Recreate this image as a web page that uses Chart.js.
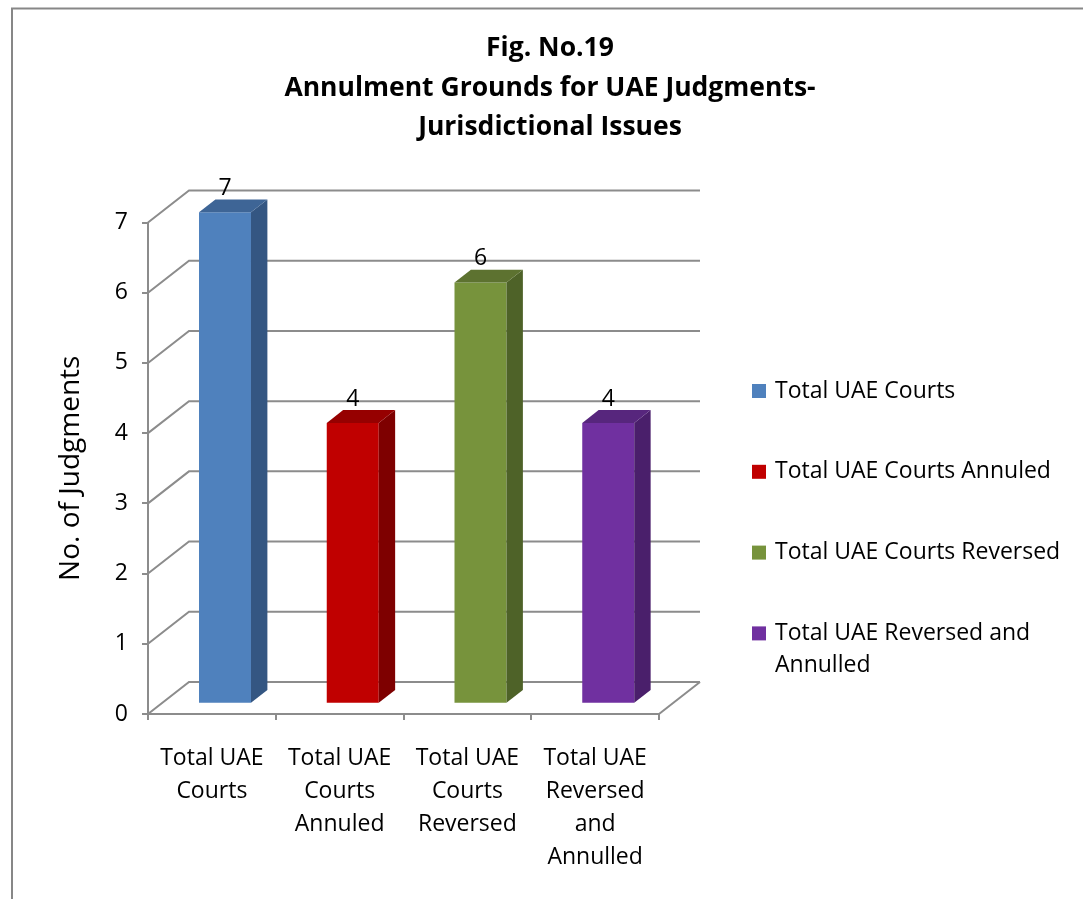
<!DOCTYPE html>
<html>
<head>
<meta charset="utf-8">
<script src="https://cdn.jsdelivr.net/npm/chart.js@4/dist/chart.umd.min.js"></script>
<style>
  html, body { margin: 0; padding: 0; background: #fff; overflow: hidden; }
</style>
</head>
<body>
<canvas id="chart" width="1083" height="899"></canvas>
<script>
// data
const categories = [["Total UAE", "Courts"], ["Total UAE", "Courts", "Annuled"], ["Total UAE", "Courts", "Reversed"], ["Total UAE", "Reversed", "and", "Annulled"]];
const legendLabels = [["Total UAE Courts"], ["Total UAE Courts Annuled"], ["Total UAE Courts Reversed"], ["Total UAE Reversed and", "Annulled"]];
const judgments = [7, 4, 6, 4];
const yTicks = [0, 1, 2, 3, 4, 5, 6, 7];
const titleLines = ["Fig. No.19", "Annulment Grounds for UAE Judgments-", "Jurisdictional Issues"];
const yTitle = "No. of Judgments";

// styles
const frontColors = ["#4F81BD", "#C00000", "#77933C", "#7030A0"];
const sideColors = ["#345682", "#7E0000", "#4E6228", "#4A1F6B"];
const topColors = ["#3E6596", "#960000", "#5D7230", "#57267D"];
const gridColor = "#8C8C8C";
const FONT = "'Open Sans', sans-serif";
const DX = 41, DY = -32;          // depth of the 3d box
const BAR_FRONT = 0.32, BAR_DEPTH = 0.4;

const plot3d = {
  id: "plot3d",
  beforeDatasetsDraw(chart) {
    const { ctx, chartArea: a } = chart;
    const y = chart.scales.y;
    ctx.save();
    ctx.strokeStyle = gridColor;
    ctx.lineWidth = 2;
    yTicks.forEach((v) => {
      const py = y.getPixelForValue(v);
      ctx.beginPath();
      ctx.moveTo(a.left, py);
      ctx.lineTo(a.left + DX, py + DY);
      ctx.lineTo(a.right + DX, py + DY);
      ctx.stroke();
    });
    ctx.beginPath();
    ctx.moveTo(a.right, a.bottom);
    ctx.lineTo(a.right + DX, a.bottom + DY);
    ctx.stroke();
    ctx.restore();
    // bars sit inside the box
    ctx.save();
    ctx.translate(DX * BAR_FRONT, DY * BAR_FRONT);
  },
  afterDatasetsDraw(chart) {
    const ctx = chart.ctx;
    const ox = DX * BAR_DEPTH, oy = DY * BAR_DEPTH;
    chart.getDatasetMeta(0).data.forEach((bar, i) => {
      const l = bar.x - bar.width / 2, r = bar.x + bar.width / 2, t = bar.y, b = bar.base;
      ctx.fillStyle = sideColors[i];
      ctx.beginPath();
      ctx.moveTo(r, t); ctx.lineTo(r + ox, t + oy); ctx.lineTo(r + ox, b + oy); ctx.lineTo(r, b);
      ctx.closePath(); ctx.fill();
      ctx.fillStyle = topColors[i];
      ctx.beginPath();
      ctx.moveTo(l, t); ctx.lineTo(l + ox, t + oy); ctx.lineTo(r + ox, t + oy); ctx.lineTo(r, t);
      ctx.closePath(); ctx.fill();
      ctx.fillStyle = "#000";
      ctx.font = "23px " + FONT;
      ctx.textAlign = "center";
      ctx.textBaseline = "middle";
      ctx.fillText(String(judgments[i]), bar.x, t + oy - 11);
    });
    ctx.restore();
  },
  afterDraw(chart) {
    const ctx = chart.ctx;
    ctx.save();
    // frame
    ctx.strokeStyle = "#878787";
    ctx.lineWidth = 2;
    ctx.beginPath();
    ctx.moveTo(12, 899); ctx.lineTo(12, 8.5); ctx.lineTo(1083, 8.5);
    ctx.stroke();
    // title
    ctx.fillStyle = "#000";
    ctx.textAlign = "center";
    ctx.textBaseline = "middle";
    ctx.font = "bold 26.5px " + FONT;
    titleLines.forEach((line, i) => ctx.fillText(line, 550, 48.5 + i * 39.5));
    // legend
    ctx.font = "23px " + FONT;
    ctx.textAlign = "left";
    legendLabels.forEach((lines, i) => {
      const cy = 391 + i * 80.8;
      ctx.fillStyle = frontColors[i];
      ctx.fillRect(752, cy - 7, 14, 14);
      ctx.fillStyle = "#000";
      lines.forEach((line, k) => ctx.fillText(line, 775, cy + k * 32));
    });
    ctx.restore();
  },
};

new Chart(document.getElementById("chart"), {
  type: "bar",
  data: {
    labels: categories,
    datasets: [{
      data: judgments,
      backgroundColor: frontColors,
      borderWidth: 0,
      barPercentage: 0.407,
      categoryPercentage: 1,
      clip: false,
    }],
  },
  options: {
    responsive: false,
    animation: false,
    events: [],
    layout: { padding: { left: 0, right: 424, top: 222.5, bottom: 0 } },
    plugins: { legend: { display: false }, tooltip: { enabled: false } },
    scales: {
      x: {
        afterFit: (s) => { s.height = 185; },
        grid: { drawOnChartArea: false, drawTicks: true, tickLength: 6, color: gridColor, lineWidth: 2 },
        border: { color: gridColor, width: 2 },
        ticks: { color: "#000", font: { family: FONT, size: 23, lineHeight: 1.43 }, padding: 22, maxRotation: 0, autoSkip: false },
      },
      y: {
        min: 0,
        max: 7,
        afterFit: (s) => { s.width = 148; },
        afterBuildTicks: (s) => { s.ticks = yTicks.map((v) => ({ value: v })); },
        grid: { drawOnChartArea: false, drawTicks: true, tickLength: 6, color: gridColor, lineWidth: 2 },
        border: { color: gridColor, width: 2 },
        ticks: { color: "#000", font: { family: FONT, size: 23 }, padding: 14 },
        title: { display: true, text: yTitle, color: "#000", font: { family: FONT, size: 28 }, padding: { top: 54 } },
      },
    },
  },
  plugins: [plot3d],
});
</script>
</body>
</html>
